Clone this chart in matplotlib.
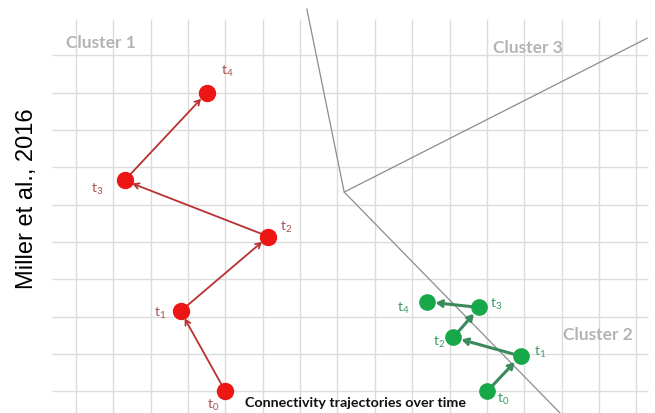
import matplotlib.pyplot as plt

# grid units: one cell = one unit, origin at bottom-left grid crossing
red_x = [4.0, 2.8, 5.15, 1.3, 3.5]
red_y = [0.0, 2.15, 4.15, 5.65, 8.0]
green_x = [11.0, 11.9, 10.1, 10.8, 9.4]
green_y = [0.0, 0.95, 1.45, 2.25, 2.4]
step_labels = ['$t_0$', '$t_1$', '$t_2$', '$t_3$', '$t_4$']

# cluster boundary lines (top / vertex / right / bottom)
bound_top = (6.18, 10.24)
bound_vertex = (7.18, 5.34)
bound_right = (15.29, 9.46)
bound_bottom = (12.96, -0.58)

cluster_names = ['Cluster 1', 'Cluster 3', 'Cluster 2']
cluster_x = [-0.27, 11.16, 13.04]
cluster_y = [9.36, 9.22, 1.54]

# label offsets in points
red_off = [(-9, -9), (-15, -1), (13, 7), (-20, -6), (15, 16)]
green_off = [(12, -5), (14, 3), (-10, -3), (12, 3), (-17, -4)]

plt.rcParams['mathtext.default'] = 'regular'

fig = plt.figure(figsize=(6.55, 4.14), dpi=100)
ax = fig.add_axes([0, 0, 1, 1])
ax.set_xlim(-2.035, 15.50)
ax.set_ylim(-0.576, 10.51)
ax.axis('off')

# grid
ax.vlines(range(16), -0.6, 9.97, color='#dcdcdc', lw=1, zorder=1)
ax.hlines(range(10), -0.64, 15.3, color='#dcdcdc', lw=1, zorder=1)

# boundaries
ax.plot([bound_top[0], bound_vertex[0], bound_bottom[0]],
        [bound_top[1], bound_vertex[1], bound_bottom[1]], color='#8c8c8c', lw=0.9, zorder=2)
ax.plot([bound_vertex[0], bound_right[0]], [bound_vertex[1], bound_right[1]],
        color='#8c8c8c', lw=0.9, zorder=2)

for name, cx, cy in zip(cluster_names, cluster_x, cluster_y):
    ax.text(cx, cy, name, color='#b4b4b4', fontsize=12.5, fontweight='bold',
            family='Lato', ha='left', va='center')


def trajectory(xs, ys, dot, line, lab, offs, lw, ms):
    for i in range(len(xs) - 1):
        ax.annotate('', xy=(xs[i + 1], ys[i + 1]), xytext=(xs[i], ys[i]),
                    arrowprops=dict(arrowstyle='->,head_length=0.35,head_width=0.2',
                                    color=line, lw=lw, shrinkA=5, shrinkB=6),
                    zorder=3)
    ax.plot(xs, ys, 'o', color=dot, markersize=ms, zorder=4, ls='none')
    for x, y, t, o in zip(xs, ys, step_labels, offs):
        ax.annotate(t, (x, y), xytext=o, textcoords='offset points', color=lab,
                    fontsize=10, ha='center', va='center', family='Lato')


trajectory(red_x, red_y, '#ee1515', '#b83030', '#a85050', red_off, 1.3, 11.5)
trajectory(green_x, green_y, '#17a84a', '#3a8a5c', '#3c9a60', green_off, 2.2, 11)

ax.text(4.52, -0.28, 'Connectivity trajectories over time', fontsize=10.3,
        fontweight='bold', family='Lato', color='#111111', ha='left', va='center')
ax.text(-1.31, 5.18, 'Miller et al., 2016', fontsize=17, family='Liberation Sans',
        rotation=90, ha='center', va='center', color='black')

fig.savefig('out.png', dpi=100)
